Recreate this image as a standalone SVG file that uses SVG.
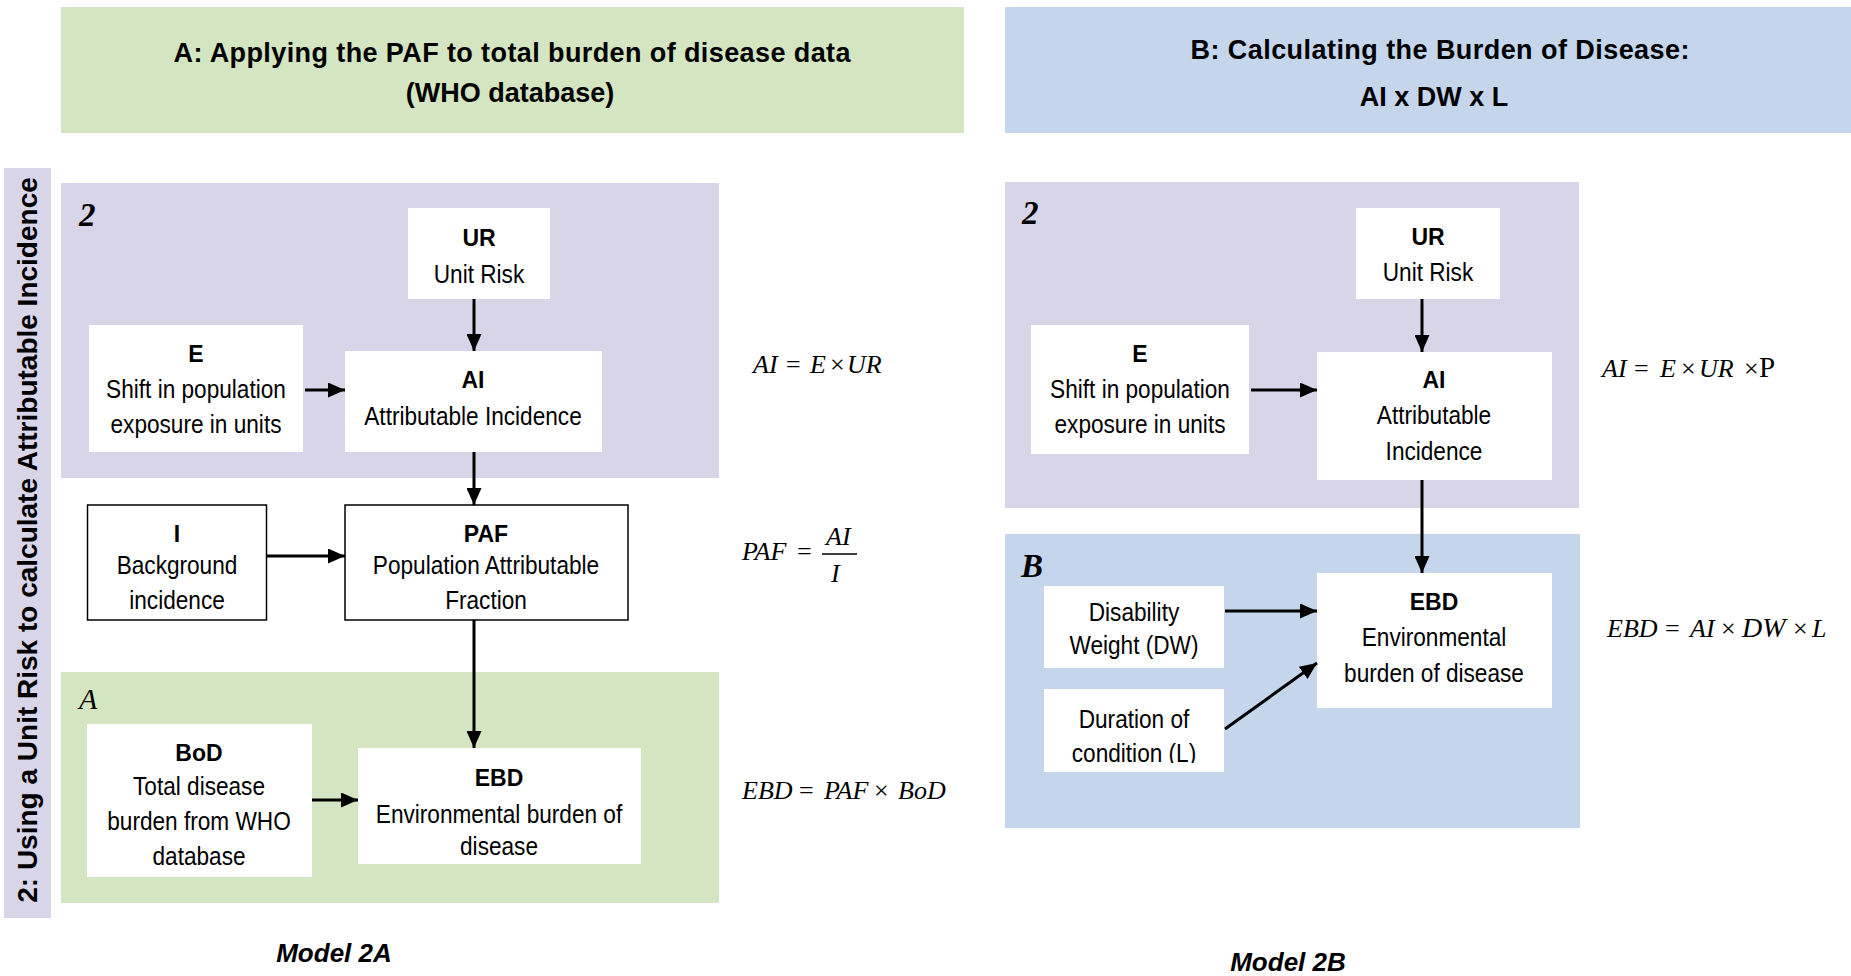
<svg xmlns="http://www.w3.org/2000/svg" width="1851" height="976" viewBox="0 0 1851 976">
<style>
.green{fill:#d3e6c1}
.blue{fill:#c5d5eb}
.purple{fill:#d9d5e8}
.box{fill:#ffffff}
.bbox{fill:#ffffff;stroke:#000000;stroke-width:1.5}
text{font-family:"Liberation Sans",Arial,sans-serif;fill:#000000;text-anchor:middle}
.hd{font-size:27px;font-weight:bold}
.b{font-size:23px;font-weight:bold}
.r{font-size:26px}
.side{font-size:28px;font-weight:bold}
.model{font-size:26px;font-weight:bold;font-style:italic}
.lab{font-family:"Liberation Serif","Times New Roman",serif;font-style:italic;text-anchor:start}
.eq{font-family:"Liberation Serif","Times New Roman",serif;font-style:italic;font-size:26px;text-anchor:start}
.up{font-style:normal}
.conn line{stroke:#000000;stroke-width:3;marker-end:url(#ah)}
</style>
<defs>
<marker id="ah" markerUnits="userSpaceOnUse" markerWidth="17" markerHeight="15" refX="17" refY="7.5" orient="auto">
<path d="M0,0 L17,7.5 L0,15 z" fill="#000000"/>
</marker>
<clipPath id="clipL"><rect x="1044" y="689" width="180" height="74"/></clipPath>
</defs>

<!-- headers -->
<g id="header-a">
<rect class="green" x="61" y="7" width="903" height="126"/>
<text class="hd" x="512" y="62" textLength="677" lengthAdjust="spacing">A: Applying the PAF to total  burden of disease data</text>
<text class="hd" x="510" y="102">(WHO database)</text>
</g>
<g id="header-b">
<rect class="blue" x="1005" y="7" width="846" height="126"/>
<text class="hd" x="1440" y="59" textLength="499" lengthAdjust="spacing">B: Calculating the Burden of  Disease:</text>
<text class="hd" x="1434" y="106">AI x DW x L</text>
</g>

<!-- side bar -->
<g id="sidebar">
<rect class="purple" x="4" y="168" width="47" height="750"/>
<text class="side" transform="translate(37 540) rotate(-90)" x="0" y="0">2: Using a Unit Risk to calculate Attributable Incidence</text>
</g>

<!-- panels -->
<g id="panel-2a">
<rect class="purple" x="61" y="183" width="658" height="295"/>
<text class="lab" x="79" y="226" font-size="33" font-weight="bold">2</text>
</g>
<g id="panel-a">
<rect class="green" x="61" y="672" width="658" height="231"/>
<text class="lab" x="79" y="709" font-size="30">A</text>
</g>
<g id="panel-2b">
<rect class="purple" x="1005" y="182" width="574" height="326"/>
<text class="lab" x="1022" y="224" font-size="33" font-weight="bold">2</text>
</g>
<g id="panel-b">
<rect class="blue" x="1005" y="534" width="575" height="294"/>
<text class="lab" x="1021" y="577" font-size="33" font-weight="bold">B</text>
</g>

<!-- Model 2A nodes -->
<g id="a-ur">
<rect class="box" x="408" y="208" width="142" height="91"/>
<text class="b" x="479" y="246">UR</text>
<g transform="translate(479 0) scale(0.87 1)"><text class="r" x="0" y="283">Unit Risk</text></g>
</g>
<g id="a-e">
<rect class="box" x="89" y="325" width="214" height="127"/>
<text class="b" x="196" y="362">E</text>
<g transform="translate(196 0) scale(0.87 1)"><text class="r" x="0" y="398">Shift in population</text><text class="r" x="0" y="433">exposure in units</text></g>
</g>
<g id="a-ai">
<rect class="box" x="345" y="351" width="257" height="101"/>
<text class="b" x="473" y="388">AI</text>
<g transform="translate(473 0) scale(0.87 1)"><text class="r" x="0" y="425">Attributable Incidence</text></g>
</g>
<g id="a-i">
<rect class="bbox" x="87.5" y="505" width="179" height="115"/>
<text class="b" x="177" y="542">I</text>
<g transform="translate(177 0) scale(0.87 1)"><text class="r" x="0" y="574">Background</text><text class="r" x="0" y="609">incidence</text></g>
</g>
<g id="a-paf">
<rect class="bbox" x="345" y="505" width="283" height="115"/>
<text class="b" x="486" y="542">PAF</text>
<g transform="translate(486 0) scale(0.87 1)"><text class="r" x="0" y="574">Population Attributable</text><text class="r" x="0" y="609">Fraction</text></g>
</g>
<g id="a-bod">
<rect class="box" x="87" y="724" width="225" height="153"/>
<text class="b" x="199" y="761">BoD</text>
<g transform="translate(199 0) scale(0.87 1)"><text class="r" x="0" y="795">Total disease</text><text class="r" x="0" y="830">burden from WHO</text><text class="r" x="0" y="865">database</text></g>
</g>
<g id="a-ebd">
<rect class="box" x="358" y="748" width="283" height="116"/>
<text class="b" x="499" y="786">EBD</text>
<g transform="translate(499 0) scale(0.87 1)"><text class="r" x="0" y="823">Environmental burden of</text><text class="r" x="0" y="855">disease</text></g>
</g>

<!-- Model 2B nodes -->
<g id="b-ur">
<rect class="box" x="1356" y="208" width="144" height="91"/>
<text class="b" x="1428" y="245">UR</text>
<g transform="translate(1428 0) scale(0.87 1)"><text class="r" x="0" y="281">Unit Risk</text></g>
</g>
<g id="b-e">
<rect class="box" x="1031" y="325" width="218" height="129"/>
<text class="b" x="1140" y="362">E</text>
<g transform="translate(1140 0) scale(0.87 1)"><text class="r" x="0" y="398">Shift in population</text><text class="r" x="0" y="433">exposure in units</text></g>
</g>
<g id="b-ai">
<rect class="box" x="1317" y="352" width="235" height="128"/>
<text class="b" x="1434" y="388">AI</text>
<g transform="translate(1434 0) scale(0.87 1)"><text class="r" x="0" y="424">Attributable</text><text class="r" x="0" y="460">Incidence</text></g>
</g>
<g id="b-dw">
<rect class="box" x="1044" y="586" width="180" height="82"/>
<g transform="translate(1134 0) scale(0.87 1)"><text class="r" x="0" y="621">Disability</text><text class="r" x="0" y="654">Weight (DW)</text></g>
</g>
<g id="b-l">
<rect class="box" x="1044" y="689" width="180" height="83"/>
<g clip-path="url(#clipL)"><g transform="translate(1134 0) scale(0.87 1)"><text class="r" x="0" y="728">Duration of</text><text class="r" x="0" y="762">condition (L)</text></g></g>
</g>
<g id="b-ebd">
<rect class="box" x="1317" y="573" width="235" height="135"/>
<text class="b" x="1434" y="610">EBD</text>
<g transform="translate(1434 0) scale(0.87 1)"><text class="r" x="0" y="646">Environmental</text><text class="r" x="0" y="682">burden of disease</text></g>
</g>

<!-- connectors -->
<g id="connectors" class="conn">
<line x1="474" y1="299" x2="474" y2="351"/>
<line x1="305" y1="390" x2="345" y2="390"/>
<line x1="474" y1="452" x2="474" y2="505"/>
<line x1="267" y1="556" x2="345" y2="556"/>
<line x1="474" y1="620" x2="474" y2="748"/>
<line x1="312" y1="800" x2="358" y2="800"/>
<line x1="1422" y1="299" x2="1422" y2="352"/>
<line x1="1251" y1="390" x2="1317" y2="390"/>
<line x1="1422" y1="480" x2="1422" y2="573"/>
<line x1="1225" y1="611" x2="1317" y2="611"/>
<line x1="1225" y1="729" x2="1317" y2="663"/>
</g>

<!-- equations -->
<g id="eq-a">
<text class="eq" y="373"><tspan x="753">AI</tspan><tspan x="786" class="up">=</tspan><tspan x="810">E</tspan><tspan x="830" class="up">×</tspan><tspan x="847">UR</tspan></text>
<text class="eq" y="560"><tspan x="742">PAF</tspan><tspan x="797" class="up">=</tspan></text>
<text class="eq" x="826" y="545">AI</text>
<line x1="822" y1="554" x2="857" y2="554" stroke="#000000" stroke-width="1.3"/>
<text class="eq" x="831" y="582">I</text>
<text class="eq" y="799"><tspan x="742">EBD</tspan><tspan x="799" class="up">=</tspan><tspan x="824">PAF</tspan><tspan x="874" class="up">×</tspan><tspan x="898">BoD</tspan></text>
</g>
<g id="eq-b">
<text class="eq" y="377"><tspan x="1602">AI</tspan><tspan x="1634" class="up">=</tspan><tspan x="1660">E</tspan><tspan x="1681" class="up">×</tspan><tspan x="1699">UR</tspan><tspan x="1744" class="up">×</tspan><tspan x="1759" class="up" font-size="29">P</tspan></text>
<text class="eq" y="637"><tspan x="1607">EBD</tspan><tspan x="1665" class="up">=</tspan><tspan x="1690">AI</tspan><tspan x="1721" class="up">×</tspan><tspan x="1742" font-size="28">DW</tspan><tspan x="1793" class="up">×</tspan><tspan x="1812">L</tspan></text>
</g>

<!-- model titles -->
<text class="model" x="334" y="962">Model 2A</text>
<text class="model" x="1288" y="971">Model 2B</text>
</svg>
